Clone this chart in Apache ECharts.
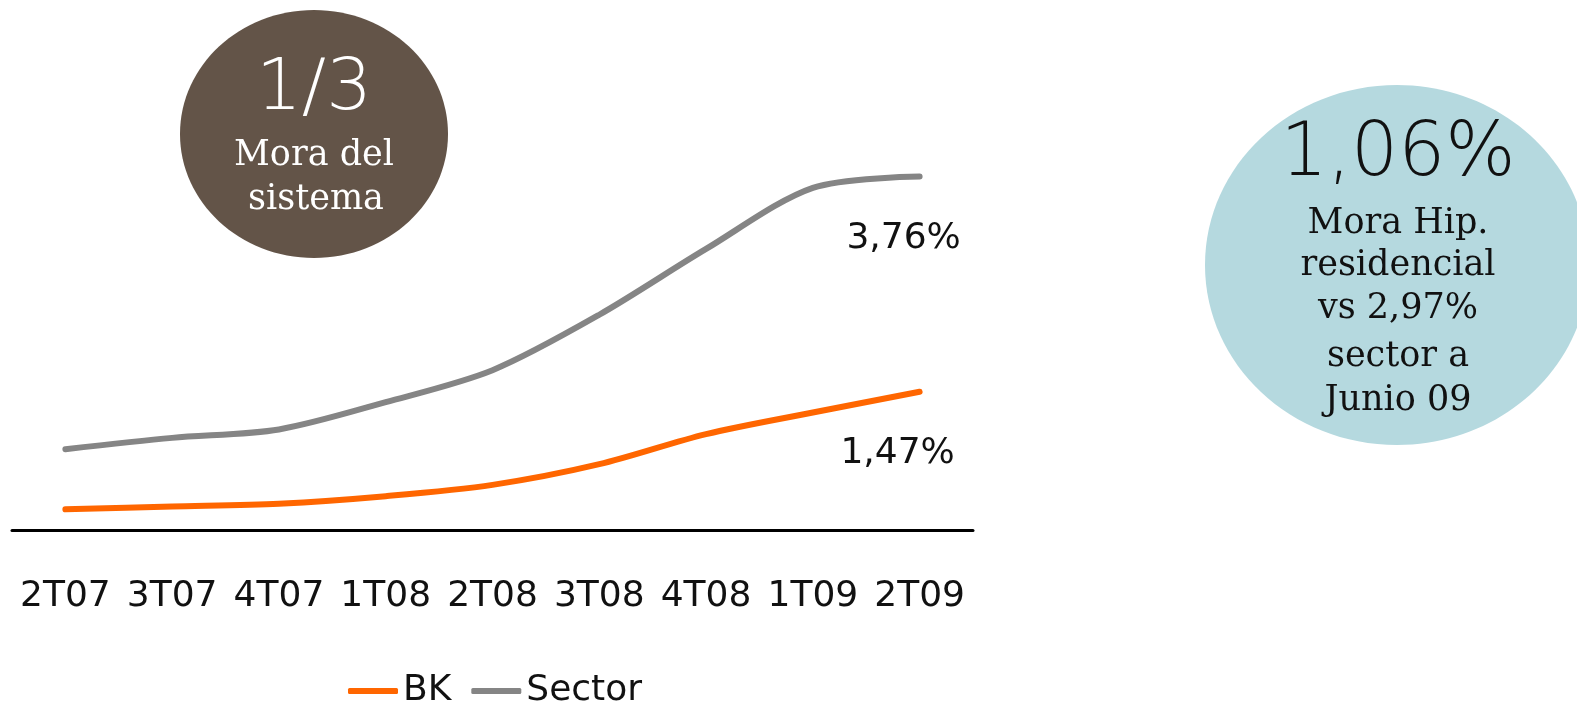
<!DOCTYPE html>
<html>
<head>
<meta charset="utf-8">
<script src="https://cdn.jsdelivr.net/npm/echarts@6/dist/echarts.min.js"></script>
<style>
  html, body { margin: 0; padding: 0; background: #ffffff; }
  #chart { width: 1577px; height: 703px; }
</style>
</head>
<body>
<div id="chart"></div>
<script>
// Quarterly non-performing loan ratio (%), BK vs. sector
const categories = ['2T07', '3T07', '4T07', '1T08', '2T08', '3T08', '4T08', '1T09', '2T09'];
const bkValues = [0.22, 0.25, 0.28, 0.36, 0.48, 0.70, 1.02, 1.25, 1.47];
const sectorValues = [0.86, 0.98, 1.07, 1.36, 1.70, 2.29, 2.99, 3.64, 3.76];
const seriesNames = ['BK', 'Sector'];

const sansFont = '"DejaVu Sans", sans-serif';
const slabFont = '"DejaVu Serif", serif';
const bkColor = '#ff6600';
const sectorColor = '#858585';

function pct(v) {
  return v.toFixed(2).replace('.', ',') + '%';
}

// Only the last point of each series carries a value label
function withEndLabel(values, offsetX) {
  const last = values.length - 1;
  return values.map((v, i) => i === last
    ? { value: v, label: { show: true, position: 'bottom', distance: 44, offset: [offsetX, 0],
        formatter: (p) => pct(p.value), fontFamily: sansFont, fontSize: 36, color: '#111' } }
    : v);
}

function lineSeries(name, values, color, offsetX, z) {
  return {
    name: name,
    type: 'line',
    data: withEndLabel(values, offsetX),
    smooth: 0.3,
    showSymbol: true,
    symbol: 'circle',
    symbolSize: 0,
    label: { show: false },
    itemStyle: { color: color },
    lineStyle: { color: color, width: 6, cap: 'round' },
    emphasis: { disabled: true },
    z: z
  };
}

const chart = echarts.init(document.getElementById('chart'));
chart.setOption({
  animation: false,
  backgroundColor: '#ffffff',
  grid: { left: 12, right: 604, top: 154, bottom: 173, containLabel: false },
  xAxis: {
    type: 'category',
    data: categories,
    boundaryGap: true,
    axisLine: { show: true, lineStyle: { color: '#000', width: 3 } },
    axisTick: { show: false },
    axisLabel: { interval: 0, fontFamily: sansFont, fontSize: 36, color: '#111', margin: 49 }
  },
  yAxis: {
    type: 'value',
    min: 0,
    max: 4,
    show: false,
    splitLine: { show: false }
  },
  legend: {
    data: seriesNames,
    top: 668,
    left: 343,
    icon: 'roundRect',
    itemWidth: 50,
    itemHeight: 6,
    itemGap: 20,
    textStyle: { fontFamily: sansFont, fontSize: 36, color: '#111' }
  },
  series: [
    lineSeries(seriesNames[0], bkValues, bkColor, -22, 3),
    lineSeries(seriesNames[1], sectorValues, sectorColor, -16, 2)
  ],
  graphic: [
    {
      type: 'ellipse',
      shape: { cx: 314, cy: 134, rx: 134, ry: 124 },
      style: { fill: '#635448' },
      z: 10
    },
    {
      type: 'text', x: 314, y: 90, z: 11,
      style: { text: '1/3', fill: '#fff', font: '300 72px ' + sansFont, textAlign: 'center', textVerticalAlign: 'middle' }
    },
    {
      type: 'text', x: 314, y: 156, z: 11,
      style: { text: 'Mora del', fill: '#fff', font: '35px ' + slabFont, textAlign: 'center', textVerticalAlign: 'middle' }
    },
    {
      type: 'text', x: 316, y: 200, z: 11,
      style: { text: 'sistema', fill: '#fff', font: '35px ' + slabFont, textAlign: 'center', textVerticalAlign: 'middle' }
    },
    {
      type: 'ellipse',
      shape: { cx: 1397, cy: 265, rx: 192, ry: 180 },
      style: { fill: '#b5d9df' },
      z: 10
    },
    {
      type: 'text', x: 1398, y: 156, z: 11,
      style: { text: '1,06%', fill: '#111', font: '300 74px ' + sansFont, textAlign: 'center', textVerticalAlign: 'middle' }
    },
    {
      type: 'text', x: 1398, y: 224, z: 11,
      style: { text: 'Mora Hip.', fill: '#111', font: '35px ' + slabFont, textAlign: 'center', textVerticalAlign: 'middle' }
    },
    {
      type: 'text', x: 1398, y: 266, z: 11,
      style: { text: 'residencial', fill: '#111', font: '35px ' + slabFont, textAlign: 'center', textVerticalAlign: 'middle' }
    },
    {
      type: 'text', x: 1398, y: 309, z: 11,
      style: { text: 'vs 2,97%', fill: '#111', font: '35px ' + slabFont, textAlign: 'center', textVerticalAlign: 'middle' }
    },
    {
      type: 'text', x: 1398, y: 357, z: 11,
      style: { text: 'sector a', fill: '#111', font: '35px ' + slabFont, textAlign: 'center', textVerticalAlign: 'middle' }
    },
    {
      type: 'text', x: 1398, y: 401, z: 11,
      style: { text: 'Junio 09', fill: '#111', font: '35px ' + slabFont, textAlign: 'center', textVerticalAlign: 'middle' }
    }
  ]
});
</script>
</body>
</html>
